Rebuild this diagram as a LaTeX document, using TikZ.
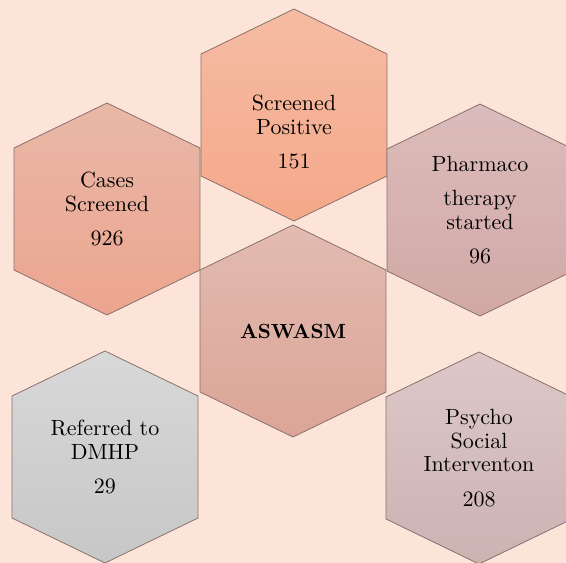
\documentclass[tikz,border=0pt]{standalone}
\usepackage{fontspec}
\setmainfont{lmroman10-regular.otf}[BoldFont=lmroman10-bold.otf]
\usepackage{tikz}
\usetikzlibrary{positioning,calc}
\definecolor{pagebg}{RGB}{252,229,216}
\definecolor{hexline}{RGB}{138,112,108}
\definecolor{posA}{RGB}{245,188,163}
\definecolor{posB}{RGB}{245,168,138}
\definecolor{casA}{RGB}{233,184,167}
\definecolor{casB}{RGB}{236,165,143}
\definecolor{phaA}{RGB}{219,188,186}
\definecolor{phaB}{RGB}{209,168,166}
\definecolor{midA}{RGB}{226,187,177}
\definecolor{midB}{RGB}{220,164,151}
\definecolor{refA}{RGB}{216,216,216}
\definecolor{refB}{RGB}{199,199,199}
\definecolor{psyA}{RGB}{220,200,200}
\definecolor{psyB}{RGB}{205,178,178}

% hexagon around a named centre: #1 centre, #2 top colour, #3 bottom colour
\newcommand{\hexcell}[3]{%
  \draw[hexline,line width=0.8pt,top color=#2,bottom color=#3]
    (#1) ++(0,-106) -- ++(93,45) -- ++(0,122) -- ++(-93,45)
    -- ++(-93,-45) -- ++(0,-122) -- cycle;}

\begin{document}
\begin{tikzpicture}[x=1pt,y=-1pt,
  every node/.style={font=\fontsize{22}{23.5}\selectfont,align=center,text=black}]
  \fill[pagebg] (0,0) rectangle (566,563);
  \useasboundingbox (0,0) rectangle (566,563);
  \coordinate (pos) at (294,115);
  \coordinate (cas) at (107,209);
  \coordinate (pha) at (480,210);
  \coordinate (mid) at (293,331);
  \coordinate (ref) at (105,457);
  \coordinate (psy) at (479,458);
  \hexcell{pos}{posA}{posB}
  \hexcell{cas}{casA}{casB}
  \hexcell{pha}{phaA}{phaB}
  \hexcell{mid}{midA}{midB}
  \hexcell{ref}{refA}{refB}
  \hexcell{psy}{psyA}{psyB}
  \node (postext) at ($(pos)+(0,17)$) {Screened\\Positive\\[11pt]151};
  \node (castext) at (cas) {Cases\\Screened\\[11pt]926};
  \node (phatext) at (pha) {Pharmaco\\[11pt]therapy\\started\\[11pt]96};
  \node[font=\fontsize{20.5}{22}\selectfont\bfseries] (midtext) at (mid) {ASWASM};
  \node (reftext) at (ref) {Referred to\\DMHP\\[11pt]29};
  \node (psytext) at (psy) {Psycho\\Social\\Interventon\\[11pt]208};
\end{tikzpicture}
\end{document}
